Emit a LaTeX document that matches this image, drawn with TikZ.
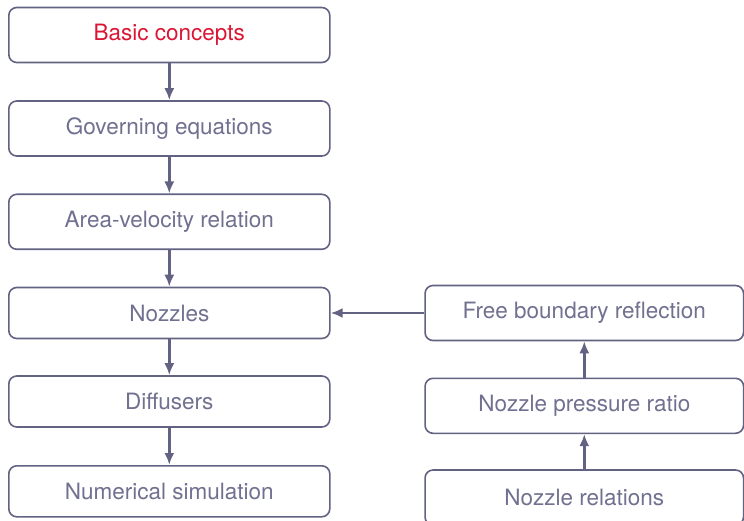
\documentclass[tikz,border=0pt]{standalone}
\usepackage{fontspec}
\setmainfont{TeX Gyre Heros}
\usetikzlibrary{arrows.meta}
\definecolor{boxline}{RGB}{98,98,130}
\definecolor{boxtext}{RGB}{112,112,144}
\definecolor{titlered}{RGB}{218,22,52}
\tikzset{
  box/.style={draw=boxline,line width=1.6pt,rounded corners=8pt,fill=white,
    minimum width=321pt,minimum height=55pt,inner sep=0pt,text=boxtext,
    font=\fontsize{22.5}{27}\selectfont},
  flow/.style={draw=boxline,line width=2.4pt,-{Latex[length=12pt,width=10pt]}}
}
\begin{document}
\begin{tikzpicture}[x=1pt,y=-1pt]
\useasboundingbox (0,0) rectangle (744,521);
\clip (0,0) rectangle (744,521);
\node[box,text=titlered](basic) at (169.3,35) {Basic concepts};
\node[box](gov) at (169.3,128.5) {Governing equations};
\node[box](area) at (169.3,221.8) {Area-velocity relation};
\node[box,minimum height=51pt](noz) at (169.3,313) {Nozzles};
\node[box,minimum height=51pt](diff) at (169.3,401.5) {Diffusers};
\node[box,minimum height=51pt](num) at (169.3,491.3) {Numerical simulation};
\node[box,minimum width=318.5pt](free) at (584.3,313) {Free boundary reflection};
\node[box,minimum width=318.5pt](npr) at (584.3,405.8) {Nozzle pressure ratio};
\node[box,minimum width=318.5pt](rel) at (584.3,497.5) {Nozzle relations};
\draw[flow](basic)--(gov);
\draw[flow](gov)--(area);
\draw[flow](area)--(noz);
\draw[flow](noz)--(diff);
\draw[flow](diff)--(num);
\draw[flow](rel)--(npr);
\draw[flow](npr)--(free);
\draw[flow](free.west)--(noz.east);
\end{tikzpicture}
\end{document}
